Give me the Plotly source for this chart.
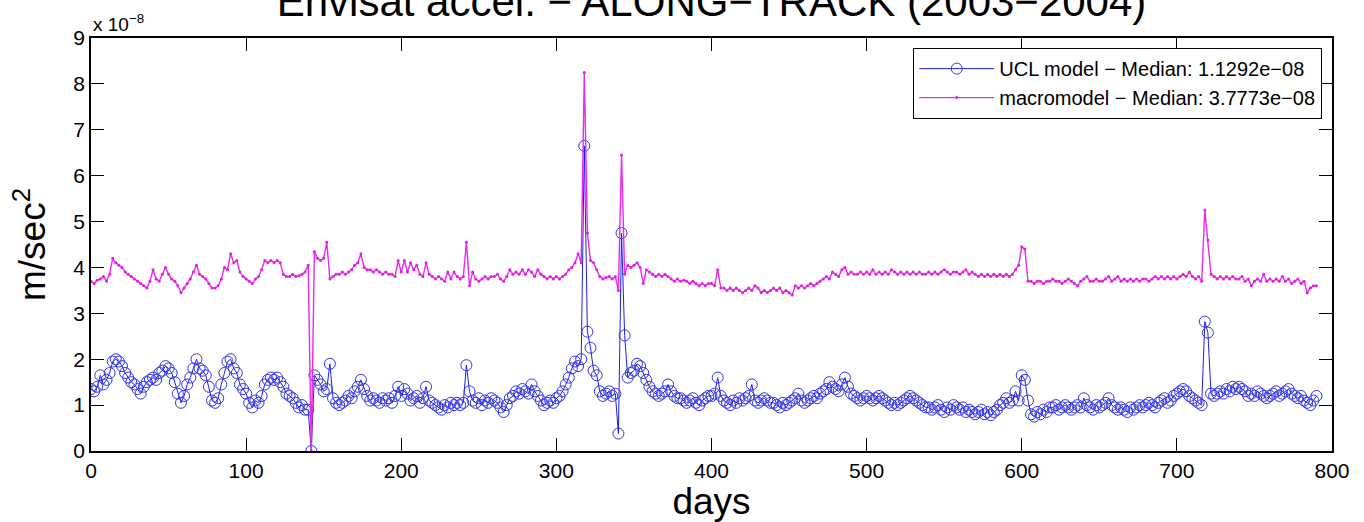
import plotly.graph_objects as go

# Day number of each sample (every 2nd day)
days = list(range(0, 792, 2))

# Along-track acceleration, UCL model (units of 1e-8 m/s^2)
ucl_1e8 = [
    1.35, 1.30, 1.40, 1.65, 1.45, 1.55, 1.70, 1.95, 2.00, 1.95,
    1.85, 1.70, 1.60, 1.50, 1.45, 1.35, 1.25, 1.40, 1.50, 1.55,
    1.60, 1.55, 1.70, 1.75, 1.85, 1.80, 1.70, 1.50, 1.25, 1.05,
    1.20, 1.45, 1.60, 1.80, 2.00, 1.80, 1.75, 1.65, 1.40, 1.10,
    1.05, 1.15, 1.45, 1.70, 1.95, 2.00, 1.80, 1.70, 1.45, 1.35,
    1.25, 1.05, 0.95, 1.10, 1.05, 1.20, 1.45, 1.55, 1.60, 1.55,
    1.60, 1.50, 1.40, 1.25, 1.20, 1.15, 1.05, 0.95, 1.00, 0.90,
    0.90, 0.00, 1.65, 1.55, 1.45, 1.30, 1.35, 1.90, 1.15, 1.05,
    1.00, 1.05, 1.10, 1.20, 1.15, 1.30, 1.40, 1.55, 1.35, 1.20,
    1.10, 1.15, 1.10, 1.05, 1.15, 1.10, 1.15, 1.05, 1.20, 1.40,
    1.20, 1.35, 1.25, 1.10, 1.15, 1.20, 1.05, 1.15, 1.40, 1.10,
    1.05, 1.00, 0.95, 0.90, 1.00, 0.95, 1.05, 1.00, 1.05, 1.00,
    1.05, 1.87, 1.30, 1.10, 1.05, 1.15, 1.00, 1.10, 1.05, 1.15,
    1.10, 1.05, 0.95, 0.85, 1.00, 1.15, 1.20, 1.30, 1.25, 1.35,
    1.30, 1.25, 1.45, 1.30, 1.20, 1.10, 1.00, 1.05, 1.10, 1.05,
    1.15, 1.20, 1.30, 1.45, 1.60, 1.80, 1.95, 1.85, 2.00, 6.65,
    2.60, 2.25, 1.75, 1.65, 1.30, 1.20, 1.25, 1.30, 1.20, 1.25,
    0.38, 4.75, 2.52, 1.60, 1.70, 1.75, 1.90, 1.85, 1.70, 1.55,
    1.40, 1.30, 1.25, 1.20, 1.25, 1.30, 1.45, 1.30, 1.20, 1.15,
    1.15, 1.10, 1.05, 1.10, 1.15, 1.05, 1.00, 1.10, 1.15, 1.20,
    1.20, 1.25, 1.60, 1.20, 1.10, 1.05, 1.00, 1.10, 1.05, 1.15,
    1.10, 1.15, 1.20, 1.45, 1.10, 1.05, 1.10, 1.15, 1.10, 1.05,
    1.05, 1.00, 0.95, 1.05, 1.00, 1.05, 1.10, 1.15, 1.25, 1.10,
    1.05, 1.10, 1.15, 1.20, 1.15, 1.25, 1.30, 1.35, 1.50, 1.40,
    1.35, 1.30, 1.45, 1.60, 1.40, 1.25, 1.20, 1.15, 1.10, 1.15,
    1.20, 1.15, 1.10, 1.15, 1.20, 1.15, 1.10, 1.05, 1.00, 1.05,
    1.00, 1.05, 1.10, 1.15, 1.20, 1.15, 1.10, 1.05, 1.00, 0.95,
    0.95, 0.90, 0.95, 1.00, 0.90, 0.85, 0.95, 0.90, 1.00, 0.95,
    0.90, 0.95, 0.85, 0.90, 0.85, 0.80, 0.85, 0.90, 0.80, 0.85,
    0.78, 0.85, 0.90, 1.00, 1.05, 1.15, 1.05, 1.10, 1.30, 1.10,
    1.65, 1.55, 1.10, 0.80, 0.75, 0.85, 0.80, 0.90, 0.85, 0.95,
    0.95, 1.00, 0.90, 0.95, 1.00, 0.95, 0.90, 0.95, 1.00, 0.95,
    1.15, 1.00, 0.95, 0.90, 1.00, 0.95, 1.00, 1.05, 1.15, 1.00,
    0.95, 0.90, 0.95, 0.90, 0.85, 0.95, 0.90, 0.95, 1.00, 0.95,
    1.00, 1.05, 1.00, 0.95, 1.05, 1.10, 1.15, 1.05, 1.10, 1.20,
    1.25, 1.30, 1.35, 1.30, 1.20, 1.15, 1.10, 1.05, 1.00, 2.82,
    2.58, 1.25, 1.20, 1.25, 1.30, 1.25, 1.35, 1.30, 1.40, 1.35,
    1.40, 1.35, 1.30, 1.20, 1.25, 1.20, 1.30, 1.25, 1.20, 1.15,
    1.20, 1.25, 1.30, 1.20, 1.25, 1.30, 1.35, 1.25, 1.20, 1.15,
    1.20, 1.10, 1.05, 1.00, 1.10, 1.20,
]

# Along-track acceleration, macromodel (units of 1e-8 m/s^2)
macro_1e8 = [
    3.70, 3.65, 3.72, 3.75, 3.80, 3.70, 3.85, 4.20, 4.10, 4.05,
    4.00, 3.90, 3.85, 3.80, 3.75, 3.70, 3.65, 3.60, 3.55, 3.70,
    3.95, 3.75, 3.70, 3.85, 4.00, 3.85, 3.75, 3.70, 3.60, 3.45,
    3.55, 3.65, 3.75, 3.90, 4.05, 3.85, 3.80, 3.75, 3.65, 3.55,
    3.55, 3.60, 3.75, 4.00, 3.95, 4.30, 4.10, 4.15, 3.90, 3.80,
    3.75, 3.70, 3.65, 3.75, 3.80, 3.95, 4.15, 4.10, 4.15, 4.10,
    4.15, 4.10, 3.85, 3.80, 3.80, 3.85, 3.80, 3.82, 3.85, 3.90,
    4.05, 0.00, 4.35, 4.20, 4.15, 4.20, 4.55, 3.75, 3.80, 3.85,
    3.85, 3.90, 3.85, 3.90, 3.95, 4.05, 4.10, 4.30, 4.00, 3.95,
    3.95, 3.90, 3.95, 3.90, 3.85, 3.90, 3.85, 3.85, 3.80, 4.15,
    3.90, 4.15, 3.90, 4.10, 3.95, 4.05, 3.85, 3.80, 4.10, 3.85,
    3.80, 3.75, 3.80, 3.75, 3.70, 3.90, 3.75, 3.90, 3.80, 3.75,
    3.80, 4.55, 3.60, 3.90, 3.75, 3.70, 3.75, 3.80, 3.75, 3.80,
    3.80, 3.85, 3.75, 3.70, 3.80, 3.95, 3.85, 3.90, 3.85, 3.95,
    3.85, 3.95, 3.90, 3.80, 3.95, 3.85, 3.80, 3.75, 3.80, 3.75,
    3.80, 3.75, 3.80, 3.85, 3.95, 4.00, 4.10, 4.30, 4.10, 8.25,
    4.75, 4.15, 4.10, 3.95, 3.80, 3.75, 3.78, 3.80, 3.75, 3.80,
    3.50, 6.45, 3.85, 4.05, 4.00, 4.05, 4.10, 4.00, 3.65, 3.95,
    3.90, 3.85, 3.80, 3.85, 3.80, 3.85, 3.80, 3.75, 3.70, 3.75,
    3.70, 3.72, 3.70, 3.65, 3.70, 3.65, 3.60, 3.65, 3.60, 3.65,
    3.65, 3.60, 3.95, 3.55, 3.55, 3.50, 3.55, 3.50, 3.55, 3.50,
    3.45, 3.50, 3.55, 3.50, 3.60, 3.55, 3.45, 3.50, 3.45, 3.50,
    3.55, 3.50, 3.55, 3.45, 3.50, 3.45, 3.40, 3.60, 3.55, 3.60,
    3.55, 3.60, 3.65, 3.60, 3.65, 3.70, 3.75, 3.80, 3.75, 3.90,
    3.85, 3.80, 3.95, 4.00, 3.85, 3.90, 3.85, 3.85, 3.90, 3.85,
    3.90, 3.85, 3.95, 3.85, 3.90, 3.85, 3.90, 3.85, 3.95, 3.90,
    3.85, 3.90, 3.85, 3.90, 3.85, 3.90, 3.85, 3.90, 3.85, 3.85,
    3.90, 3.85, 3.90, 3.85, 3.90, 3.95, 3.90, 3.85, 3.90, 3.90,
    3.85, 3.90, 3.95, 3.85, 3.90, 3.85, 3.80, 3.85, 3.80, 3.85,
    3.80, 3.85, 3.80, 3.85, 3.80, 3.85, 3.80, 3.85, 3.95, 4.05,
    4.45, 4.40, 3.70, 3.70, 3.65, 3.70, 3.70, 3.65, 3.70, 3.70,
    3.75, 3.70, 3.70, 3.65, 3.70, 3.75, 3.70, 3.65, 3.60, 3.70,
    3.75, 3.80, 3.70, 3.70, 3.75, 3.70, 3.70, 3.75, 3.80, 3.70,
    3.75, 3.80, 3.70, 3.75, 3.70, 3.75, 3.70, 3.75, 3.70, 3.75,
    3.75, 3.70, 3.75, 3.80, 3.75, 3.80, 3.75, 3.80, 3.75, 3.80,
    3.75, 3.80, 3.85, 3.80, 3.90, 3.80, 3.75, 3.80, 3.70, 5.25,
    4.60, 3.85, 3.80, 3.75, 3.80, 3.75, 3.80, 3.75, 3.80, 3.75,
    3.75, 3.80, 3.70, 3.75, 3.60, 3.70, 3.75, 3.70, 3.85, 3.70,
    3.75, 3.70, 3.75, 3.70, 3.80, 3.70, 3.75, 3.65, 3.70, 3.75,
    3.65, 3.70, 3.45, 3.55, 3.60, 3.60,
]

assert len(days) == len(ucl_1e8) == len(macro_1e8), (len(days), len(ucl_1e8), len(macro_1e8))

ucl_name = "UCL model \u2212 Median: 1.1292e\u221208"
macro_name = "macromodel \u2212 Median: 3.7773e\u221208"
title_text = "Envisat accel. \u2212 ALONG\u2212TRACK (2003\u22122004)"
x_ticks = [0, 100, 200, 300, 400, 500, 600, 700, 800]
y_ticks = [0, 1, 2, 3, 4, 5, 6, 7, 8, 9]

FONT = "Liberation Sans, Arial, Helvetica, sans-serif"

fig = go.Figure()
fig.add_trace(go.Scatter(
    x=days, y=ucl_1e8, mode="lines+markers", name=ucl_name,
    line=dict(color="rgb(30,30,235)", width=1),
    marker=dict(symbol="circle-open", size=11, color="rgb(50,50,235)",
                line=dict(width=1, color="rgb(50,50,235)")),
))
fig.add_trace(go.Scatter(
    x=days, y=macro_1e8, mode="lines+markers", name=macro_name,
    line=dict(color="rgb(235,40,235)", width=1.4),
    marker=dict(symbol="circle", size=3, color="rgb(225,30,225)"),
))

axis_common = dict(
    showgrid=False, zeroline=False, showline=True, linecolor="black", linewidth=1.5,
    mirror="allticks", ticks="inside", ticklen=13, tickwidth=1, tickcolor="black",
    tickfont=dict(family=FONT, size=21, color="black"), automargin=False,
)

fig.update_xaxes(range=[0, 800], tickvals=x_ticks, ticktext=[str(v) for v in x_ticks],
                 title=dict(text="days", font=dict(family=FONT, size=37, color="black"), standoff=2),
                 **axis_common)
fig.update_yaxes(range=[0, 9], tickvals=y_ticks, ticktext=[str(v) for v in y_ticks],
                 title=dict(text="m/sec<sup>2</sup>", font=dict(family=FONT, size=37, color="black"), standoff=16),
                 **axis_common)

fig.add_annotation(xref="paper", yref="paper", x=0, y=1, xanchor="left", yanchor="bottom",
                   text="x 10<sup>\u22128</sup>", showarrow=False, yshift=1,
                   font=dict(family=FONT, size=19, color="black"))

fig.update_layout(
    width=1364, height=522, autosize=False,
    margin=dict(l=91, r=32, t=38, b=71, pad=0),
    paper_bgcolor="white", plot_bgcolor="white",
    title=dict(text=title_text, x=0.5, xref="paper", xanchor="center",
               y=1 - 16 / 522, yref="container", yanchor="bottom",
               font=dict(family=FONT, size=42, color="black")),
    legend=dict(x=0.992, y=0.976, xanchor="right", yanchor="top",
                bgcolor="white", bordercolor="black", borderwidth=1.2,
                font=dict(family=FONT, size=20, color="black"),
                itemwidth=75, tracegroupgap=0),
    showlegend=True,
)

fig.write_html("out.html", config={"displayModeBar": False},
               post_script="document.body.style.margin='0';document.body.style.overflow='hidden';")
